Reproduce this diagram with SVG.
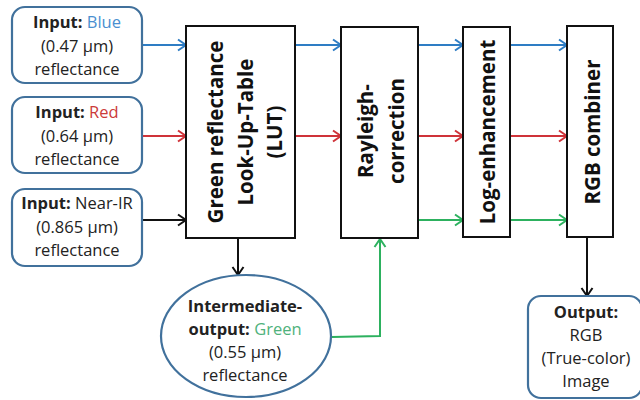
<svg xmlns="http://www.w3.org/2000/svg" width="640" height="400" viewBox="0 0 640 400">
<defs>
<style>
.io{fill:#fff;stroke:#41719c;stroke-width:2.2}
.blk{fill:#fff;stroke:#111;stroke-width:2}
.t{font-family:"Open Sans","Liberation Sans",sans-serif;font-size:16.5px;fill:#222;text-anchor:middle}
.b{font-weight:bold}
.rt{font-family:"Open Sans","Liberation Sans",sans-serif;font-size:20.5px;font-weight:bold;fill:#111;text-anchor:middle}
.cb{fill:none;stroke:#2e7dc4;stroke-width:2}
.cr{fill:none;stroke:#cf3339;stroke-width:2}
.cg{fill:none;stroke:#2db15f;stroke-width:2}
.ck{fill:none;stroke:#111;stroke-width:2}
</style>
<marker id="ab" markerUnits="userSpaceOnUse" markerWidth="12" markerHeight="14" refX="10" refY="7" orient="auto"><path d="M2,1.5 L10,7 L2,12.5" fill="none" stroke="#2e7dc4" stroke-width="2"/></marker>
<marker id="ar" markerUnits="userSpaceOnUse" markerWidth="12" markerHeight="14" refX="10" refY="7" orient="auto"><path d="M2,1.5 L10,7 L2,12.5" fill="none" stroke="#cf3339" stroke-width="2"/></marker>
<marker id="ag" markerUnits="userSpaceOnUse" markerWidth="12" markerHeight="14" refX="10" refY="7" orient="auto"><path d="M2,1.5 L10,7 L2,12.5" fill="none" stroke="#2db15f" stroke-width="2"/></marker>
<marker id="ak" markerUnits="userSpaceOnUse" markerWidth="12" markerHeight="14" refX="10" refY="7" orient="auto"><path d="M2,1.5 L10,7 L2,12.5" fill="none" stroke="#111" stroke-width="2"/></marker>
</defs>
<rect width="640" height="400" fill="#fff"/>

<g id="connectors">
<line class="cb" x1="143" y1="45" x2="186" y2="45" marker-end="url(#ab)"/>
<line class="cb" x1="295" y1="45" x2="341" y2="45" marker-end="url(#ab)"/>
<line class="cb" x1="418" y1="45" x2="463" y2="45" marker-end="url(#ab)"/>
<line class="cb" x1="510" y1="45" x2="567" y2="45" marker-end="url(#ab)"/>
<line class="cr" x1="143" y1="136" x2="186" y2="136" marker-end="url(#ar)"/>
<line class="cr" x1="295" y1="136" x2="341" y2="136" marker-end="url(#ar)"/>
<line class="cr" x1="418" y1="136" x2="463" y2="136" marker-end="url(#ar)"/>
<line class="cr" x1="510" y1="136" x2="567" y2="136" marker-end="url(#ar)"/>
<line class="ck" x1="143" y1="220" x2="186" y2="220" marker-end="url(#ak)"/>
<line class="cg" x1="418" y1="220" x2="463" y2="220" marker-end="url(#ag)"/>
<line class="cg" x1="510" y1="220" x2="567" y2="220" marker-end="url(#ag)"/>
<line class="ck" x1="238" y1="238" x2="238" y2="275" marker-end="url(#ak)"/>
<polyline class="cg" points="332,337 380,336 380,239" marker-end="url(#ag)"/>
<line class="ck" x1="587" y1="237" x2="587" y2="296" marker-end="url(#ak)"/>
</g>

<g id="input-blue">
<rect class="io" x="12" y="7" width="130" height="76" rx="13"/>
<text class="t" x="77" y="28"><tspan class="b">Input:</tspan> <tspan fill="#4a8fd0">Blue</tspan></text>
<text class="t" x="77" y="51.5">(0.47 µm)</text>
<text class="t" x="77" y="75">reflectance</text>
</g>
<g id="input-red">
<rect class="io" x="12" y="97" width="130" height="76" rx="13"/>
<text class="t" x="77" y="118"><tspan class="b">Input:</tspan> <tspan fill="#cc3a3a">Red</tspan></text>
<text class="t" x="77" y="141.5">(0.64 µm)</text>
<text class="t" x="77" y="165">reflectance</text>
</g>
<g id="input-nir">
<rect class="io" x="12" y="189" width="130" height="77" rx="13"/>
<text class="t" x="77" y="209"><tspan class="b">Input:</tspan> Near-IR</text>
<text class="t" x="77" y="232.5">(0.865 µm)</text>
<text class="t" x="77" y="256">reflectance</text>
</g>

<g id="lut">
<rect class="blk" x="186" y="26" width="109" height="212"/>
<text class="rt" transform="translate(223,132) rotate(-90)">Green reflectance</text>
<text class="rt" transform="translate(252.5,132) rotate(-90)">Look-Up-Table</text>
<text class="rt" transform="translate(282,132) rotate(-90)">(LUT)</text>
</g>
<g id="rayleigh">
<rect class="blk" x="341" y="27" width="77" height="211"/>
<text class="rt" transform="translate(373,131) rotate(-90)">Rayleigh-</text>
<text class="rt" transform="translate(404,131) rotate(-90)">correction</text>
</g>
<g id="log">
<rect class="blk" x="463" y="27" width="47" height="210"/>
<text class="rt" transform="translate(495,132) rotate(-90)">Log-enhancement</text>
</g>
<g id="rgb">
<rect class="blk" x="567" y="26" width="46" height="211"/>
<text class="rt" transform="translate(599.5,132) rotate(-90)">RGB combiner</text>
</g>

<g id="intermediate">
<ellipse cx="246" cy="336" rx="85" ry="61" fill="#fff" stroke="#41719c" stroke-width="2.2"/>
<text class="t" x="245" y="312"><tspan class="b">Intermediate-</tspan></text>
<text class="t" x="245" y="335"><tspan class="b">output:</tspan> <tspan fill="#4fb27c">Green</tspan></text>
<text class="t" x="245" y="358">(0.55 µm)</text>
<text class="t" x="245" y="381">reflectance</text>
</g>

<g id="output">
<rect class="io" x="528" y="296" width="114" height="102" rx="13"/>
<text class="t b" x="586" y="318">Output:</text>
<text class="t" x="586" y="341">RGB</text>
<text class="t" x="586" y="364">(True-color)</text>
<text class="t" x="586" y="387">Image</text>
</g>
</svg>
